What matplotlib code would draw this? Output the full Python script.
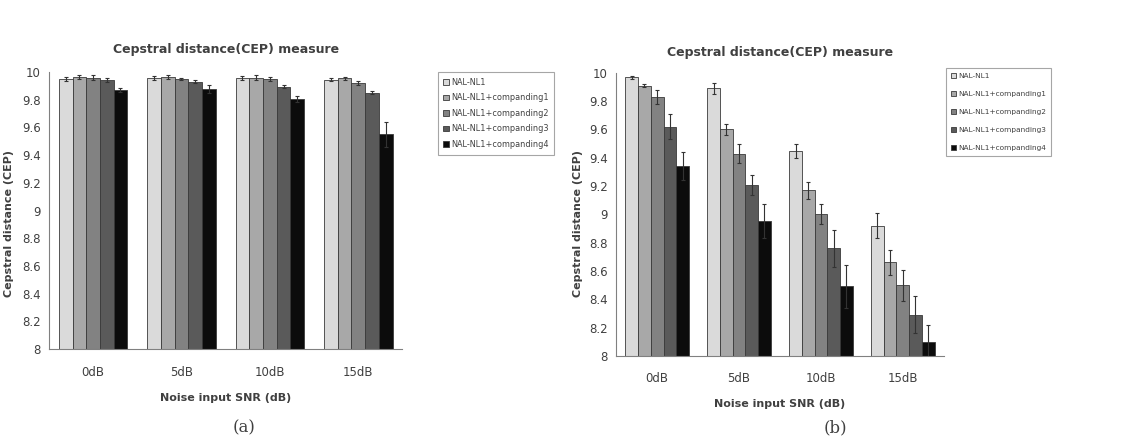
import matplotlib
matplotlib.use("Agg")
import matplotlib.pyplot as plt
import numpy as np

snr_labels = ["0dB", "5dB", "10dB", "15dB"]
series_names = ["NAL-NL1", "NAL-NL1+companding1", "NAL-NL1+companding2",
                "NAL-NL1+companding3", "NAL-NL1+companding4"]

# panel (a): rows = series, cols = SNR
cep_a = [[9.95, 9.955, 9.955, 9.945],
         [9.965, 9.965, 9.96, 9.955],
         [9.96, 9.95, 9.95, 9.92],
         [9.945, 9.93, 9.895, 9.85],
         [9.87, 9.875, 9.805, 9.55]]
err_a = [[0.015, 0.015, 0.015, 0.012],
         [0.015, 0.015, 0.02, 0.012],
         [0.02, 0.01, 0.012, 0.012],
         [0.015, 0.012, 0.012, 0.01],
         [0.012, 0.03, 0.025, 0.09]]

# panel (b)
cep_b = [[9.97, 9.89, 9.45, 8.92],
         [9.91, 9.60, 9.17, 8.66],
         [9.83, 9.43, 9.00, 8.50],
         [9.62, 9.21, 8.76, 8.29],
         [9.34, 8.95, 8.49, 8.10]]
err_b = [[0.01, 0.04, 0.05, 0.09],
         [0.01, 0.04, 0.06, 0.09],
         [0.05, 0.07, 0.07, 0.11],
         [0.09, 0.07, 0.13, 0.13],
         [0.10, 0.12, 0.15, 0.12]]

colors = ["#dadada", "#a8a8a8", "#828282", "#5a5a5a", "#0c0c0c"]
txt = "#404040"


def draw_panel(fig, rect, vals, errs, leg_anchor, ylab_x, leg_fs, leg_sp, title_pad):
    ax = fig.add_axes(rect)
    x = np.arange(len(snr_labels))
    w = 0.155
    for i, (v, e) in enumerate(zip(vals, errs)):
        ax.bar(x + (i - 2) * w, v, w, color=colors[i], edgecolor="#3a3a3a",
               linewidth=0.6, label=series_names[i],
               yerr=e, ecolor="#333333", error_kw=dict(lw=0.8, capsize=1.5, capthick=0.8))
    ax.set_ylim(8, 10)
    ax.set_xlim(-0.5, 3.5)
    ax.set_yticks([8, 8.2, 8.4, 8.6, 8.8, 9, 9.2, 9.4, 9.6, 9.8, 10])
    ax.set_yticklabels(["8", "8.2", "8.4", "8.6", "8.8", "9", "9.2", "9.4",
                        "9.6", "9.8", "10"])
    ax.set_xticks(x)
    ax.set_xticklabels(snr_labels)
    ax.tick_params(length=0, labelsize=8.5, colors=txt, pad=12)
    ax.tick_params(axis="y", pad=6)
    for s in ["top", "right"]:
        ax.spines[s].set_visible(False)
    for s in ["left", "bottom"]:
        ax.spines[s].set_color("#808080")
    ax.set_title("Cepstral distance(CEP) measure", fontsize=9, fontweight="bold",
                 color=txt, pad=title_pad)
    ax.set_xlabel("Noise input SNR (dB)", fontsize=8, fontweight="bold",
                  color=txt, labelpad=10)
    ax.set_ylabel("Cepstral distance (CEP)", fontsize=8, fontweight="bold",
                  color=txt)
    ax.yaxis.set_label_coords(ylab_x, 0.5, transform=fig.transFigure)
    leg = ax.legend(loc="upper left", bbox_to_anchor=leg_anchor,
                    bbox_transform=fig.transFigure, fontsize=leg_fs,
                    fancybox=False, edgecolor="#909090", handlelength=0.7,
                    handleheight=0.7, handletextpad=0.2, labelspacing=leg_sp,
                    borderpad=0.7, borderaxespad=0, labelcolor=txt)
    leg.get_frame().set_linewidth(0.8)
    return ax


fig = plt.figure(figsize=(11.37, 4.47), dpi=100)
draw_panel(fig, [0.043, 0.219, 0.311, 0.620], cep_a, err_a, (0.385, 0.839),
           0.012, 5.9, 0.8, 14)
draw_panel(fig, [0.542, 0.204, 0.288, 0.633], cep_b, err_b, (0.832, 0.848),
           0.513, 5.3, 1.6, 12)

fig.text(0.215, 0.033, "(a)", fontsize=12, family="DejaVu Serif", color=txt,
         ha="center")
fig.text(0.735, 0.033, "(b)", fontsize=12, family="DejaVu Serif", color=txt,
         ha="center")

fig.savefig("out.png", dpi=100)
plt.close(fig)
